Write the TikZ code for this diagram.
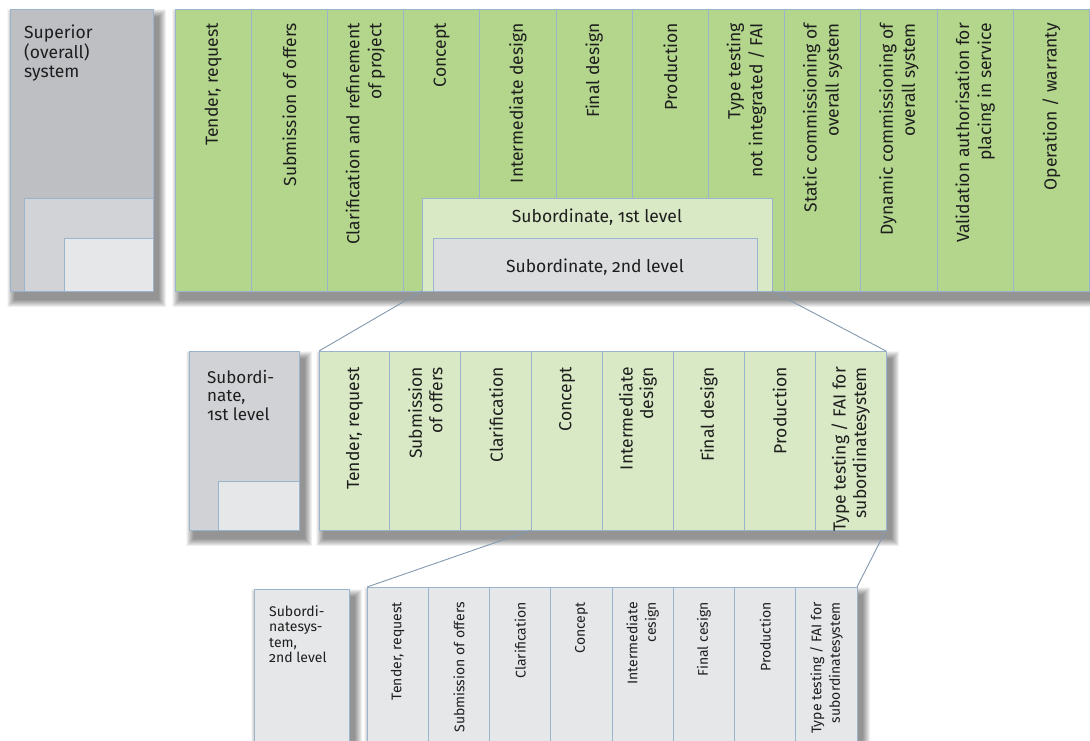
\documentclass[tikz,border=0pt]{standalone}
\usepackage{fontspec}
\setmainfont{Fira Sans}[Numbers=OldStyle]
\usetikzlibrary{calc}
\pgfdeclarelayer{bglayer}
\pgfdeclarelayer{shadlayer}
\pgfsetlayers{bglayer,shadlayer,main}
\definecolor{greenT}{RGB}{179,214,140}
\definecolor{lgreen}{RGB}{217,233,197}
\definecolor{grayA}{RGB}{190,191,195}
\definecolor{grayB}{RGB}{210,211,214}
\definecolor{grayC}{RGB}{230,231,233}
\definecolor{grayS}{RGB}{220,221,223}
\definecolor{grayM}{RGB}{209,210,213}
\definecolor{grayL}{RGB}{230,231,233}
\definecolor{bordc}{RGB}{155,180,206}
\definecolor{txt}{RGB}{30,30,30}
\newcommand\softshadow[1]{%
  \begin{pgfonlayer}{shadlayer}
  \foreach \k in {0,...,15}{%
    \fill[black, opacity=0.03]
      ($(#1.north west)+({-3+\k*0.5},{0+\k*0.5})$) rectangle
      ($(#1.south east)+({13-\k*0.5},{16-\k*0.5})$);
  }
  \end{pgfonlayer}}
\begin{document}
\begin{tikzpicture}[x=1pt,y=-1pt,
  box/.style={draw=bordc, line width=0.8pt, inner sep=0pt, outer sep=0pt, anchor=north west},
  colT/.style={box, fill=greenT, minimum width=76.2, minimum height=282},
  colM/.style={box, fill=lgreen, minimum width=70.875, minimum height=179},
  colB/.style={box, fill=grayL, minimum width=61.25, minimum height=180},
  lblbase/.style={rotate=90, anchor=east, align=right, inner sep=0pt, text=txt},
  lblT/.style={lblbase, font=\fontsize{17.5}{22}\selectfont},
  lblM/.style={lblbase, font=\fontsize{17.5}{20.5}\selectfont},
  lblB/.style={lblbase, font=\fontsize{14}{18.5}\selectfont},
  conn/.style={draw=bordc!85!black, line width=0.9pt},
  plain/.style={inner sep=0pt, text=txt}
]
\useasboundingbox (0,0) rectangle (1090,740);
\begin{pgfonlayer}{bglayer}
\fill[white] (0,0) rectangle (1090,740);
\end{pgfonlayer}

% superior system
\node[box, fill=grayA, minimum width=143, minimum height=282] (sup) at (10,9) {};
\softshadow{sup}
\node[box, fill=grayB, minimum width=129, minimum height=93] (supB) at (24,198) {};
\node[box, fill=grayC, minimum width=89, minimum height=53] (supC) at (64,238) {};
\node[plain, anchor=north west, align=left, font=\fontsize{17.5}{19.5}\selectfont] (supT) at (24,25) {Superior\\(overall)\\system};

% top strip
\node[box, fill=greenT, minimum width=914.4, minimum height=282] (stripT) at (175,9) {};
\softshadow{stripT}
\foreach \t [count=\i from 0] in {{Tender, request},{Submission of offers},{Clarification and refinement\\of project},{Concept},{Intermediate design},{Final design},{Production},{Type testing\\not integrated / FAI},{Static commissioning of\\overall system},{Dynamic commissioning of\\overall system},{Validation authorisation for\\placing in service},{Operation / warranty}}{
  \node[colT] (colT\i) at ({175+\i*76.2},9) {};
  \node[lblT] (lblT\i) at ({175+(\i+0.5)*76.2},23) {\t};
}
\node[box, fill=lgreen, minimum width=350, minimum height=93] (s1) at (422,198) {};
\node[box, fill=grayS, minimum width=324, minimum height=53] (s2) at (433,238) {};
\node[plain, font=\fontsize{17.5}{20}\selectfont] (s1t) at (597,217) {Subordinate, 1st level};
\node[plain, font=\fontsize{17.5}{20}\selectfont] (s2t) at (595,267) {Subordinate, 2nd level};

% middle row
\node[box, fill=grayM, minimum width=110, minimum height=179] (m1) at (189,351) {};
\softshadow{m1}
\node[box, fill=grayC, minimum width=81, minimum height=49] (m1b) at (218,481) {};
\node[plain, anchor=north west, align=left, font=\fontsize{17}{18.5}\selectfont] (m1t) at (207,370) {Subordi-\\nate,\\1st level};
\node[box, fill=lgreen, minimum width=567, minimum height=179] (stripM) at (319,351) {};
\softshadow{stripM}
\foreach \t [count=\i from 0] in {{Tender, request},{Submission\\of offers},{Clarification},{Concept},{Intermediate\\design},{Final design},{Production},{Type testing / FAI for\\subordinatesystem}}{
  \node[colM] (colM\i) at ({319+\i*70.875},351) {};
  \node[lblM] (lblM\i) at ({319+(\i+0.5)*70.875},367) {\t};
}

% bottom row
\node[box, fill=grayL, minimum width=95, minimum height=180] (b1) at (254,589) {};
\softshadow{b1}
\node[plain, anchor=north west, align=left, font=\fontsize{14}{15.5}\selectfont] (b1t) at (269,605) {Subordi-\\natesys-\\tem,\\2nd level};
\node[box, fill=grayL, minimum width=490, minimum height=180] (stripB) at (367,587) {};
\softshadow{stripB}
\foreach \t [count=\i from 0] in {{Tender, request},{Submission of offers},{Clarification},{Concept},{Intermediate\\cesign},{Final cesign},{Production},{Type testing / FAI for\\subordinatesystem}}{
  \node[colB] (colB\i) at ({367+\i*61.25},587) {};
  \node[lblB] (lblB\i) at ({367+(\i+0.5)*61.25},602) {\t};
}

% connectors
\draw[conn] (s1.south west) -- (stripM.north west);
\draw[conn] (s1.south east) -- (stripM.north east);
\draw[conn] (colM3.south west) -- (stripB.north west);
\draw[conn] (stripM.south east) -- (stripB.north east);
\end{tikzpicture}
\end{document}
